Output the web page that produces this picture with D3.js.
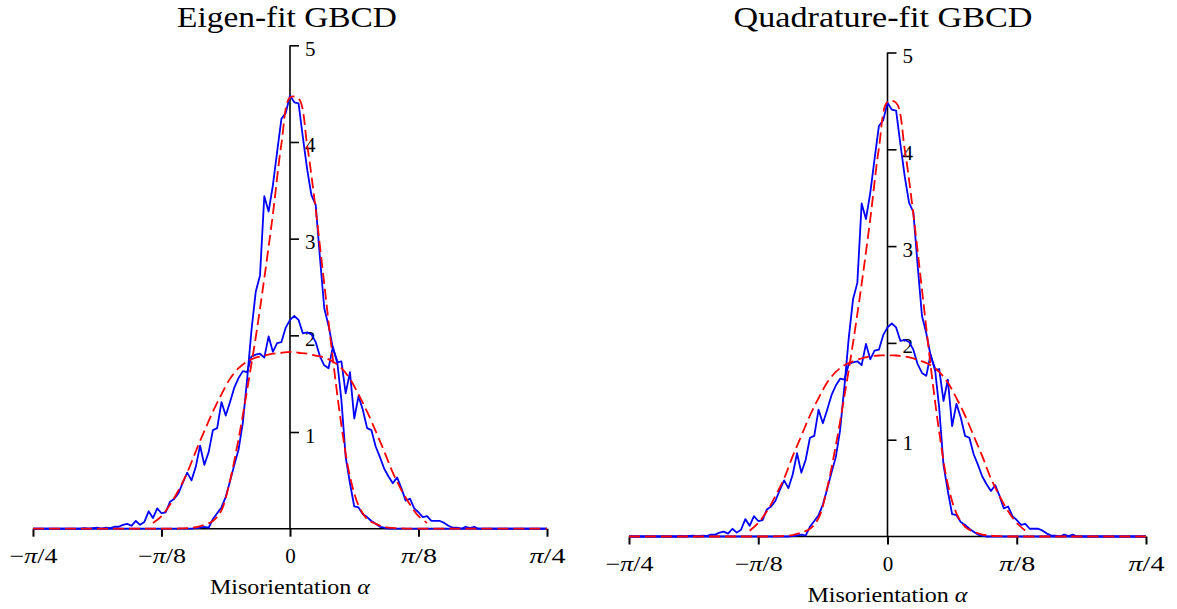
<!DOCTYPE html>
<html>
<head>
<meta charset="utf-8">
<script src="https://cdn.jsdelivr.net/npm/d3@7/dist/d3.min.js"></script>
<style>
  body { margin: 0; background: #fff; }
  svg text { font-family: "Liberation Serif", "DejaVu Serif", serif; fill: #000; }
</style>
</head>
<body>
<svg id="chart" width="1177" height="609"></svg>
<script>
// Misorientation grid: 120 bins across [-π/4, π/4]
const binStep = Math.PI / 240;
const measuredAlpha = d3.range(121).map(i => -Math.PI / 4 + i * binStep);
// fitted curves are sampled on every second grid point
const fitAlpha = d3.range(61).map(i => -Math.PI / 4 + i * 2 * binStep);

// measured GBCD, sharp population
const sharpMeasured = [
  0,0,0,0,0,0,0,0,0,0,
  0,0,0,0,0,0,0,0,0,0,
  0,0,0,0,0,0,0,0,0,0,
  0,0,0,0,0,0,0,0,
  0.005,0.01,0.02,0.01,0.10,0.16,0.22,0.33,0.49,0.66,
  0.82,1.10,1.55,2.05,2.45,2.62,3.44,3.28,3.55,3.90,
  4.24,4.30,4.48,4.41,4.40,4.05,3.72,3.45,3.35,2.80,
  2.28,2.10,1.87,1.74,1.33,0.74,0.47,0.23,0.22,0.15,
  0.12,0.08,0.05,0.02,0.01,
  0,0,0,0,0,0,0,0,0,0,
  0,0,0,0,0,0,0,0,0,0,
  0,0,0,0,0,0,0,0,0,0,
  0,0,0,0,0,0,0,0
];

// measured GBCD, broad population
const broadMeasured = [
  0,0,0,0,0,0,0,0,0,0,0,0,
  0.005,0,0.005,0.01,0,0.01,0.005,0.02,0.02,0.04,
  0.05,0.03,0.08,0.04,0.07,0.18,0.11,0.21,0.16,0.17,
  0.28,0.31,0.37,0.48,0.58,0.50,0.64,0.86,0.66,0.79,
  1.02,1.04,1.31,1.17,1.31,1.46,1.56,1.63,1.62,1.78,
  1.80,1.81,1.77,1.99,1.83,1.92,1.93,2.08,2.16,2.20,
  2.16,2.02,2.03,2.01,1.93,1.78,1.69,1.66,1.88,1.72,
  1.73,1.40,1.62,1.14,1.37,1.23,1.04,1.02,0.85,0.74,
  0.62,0.54,0.47,0.53,0.42,0.29,0.31,0.21,0.17,0.12,
  0.13,0.08,0.08,0.08,0.06,0.03,0.01,0.01,0,0.02,
  0.005,0.02,0,
  0,0,0,0,0,0,0,0,0,0,0,0,0,0,0,0
];

// eigen-fit curves
const eigenSharpFit = [
  0,0,0,0,0,0,0,0,0,0,0,0,0,0,0,0,0,
  0.002,0.006,0.015,0.04,0.08,0.19,0.50,0.93,1.44,1.98,
  2.59,3.25,3.98,4.46,4.45,3.97,3.30,2.53,1.76,1.07,
  0.54,0.24,0.10,0.05,0.02,0.008,0.003,
  0,0,0,0,0,0,0,0,0,0,0,0,0,0,0,0,0
];
const eigenBroadFit = [
  null,null,null,null,null,null,null,null,null,null,null,null,null,null,
  0.06,0.13,0.25,0.40,0.58,0.80,1.01,1.21,1.39,1.55,
  1.66,1.73,1.77,1.79,1.81,1.82,1.83,1.82,1.81,1.79,
  1.77,1.73,1.66,1.55,1.39,1.21,1.01,0.80,0.58,0.40,
  0.25,0.13,0.06,
  null,null,null,null,null,null,null,null,null,null,null,null,null,null
];

// quadrature-fit curves
const quadSharpFit = [
  0,0,0,0,0,0,0,0,0,0,0,0,0,0,0,0,0,
  0.002,0.006,0.015,0.04,0.08,0.19,0.50,0.94,1.45,2.00,
  2.61,3.28,4.01,4.49,4.48,4.00,3.33,2.55,1.77,1.08,
  0.54,0.24,0.10,0.05,0.02,0.008,0.003,
  0,0,0,0,0,0,0,0,0,0,0,0,0,0,0,0,0
];
const quadBroadFit = [
  null,null,null,null,null,null,null,null,null,null,null,null,null,null,
  0.06,0.14,0.26,0.42,0.60,0.83,1.04,1.25,1.43,1.59,
  1.70,1.77,1.81,1.84,1.86,1.87,1.87,1.87,1.86,1.84,
  1.81,1.77,1.70,1.59,1.43,1.25,1.04,0.83,0.60,0.42,
  0.26,0.14,0.06,
  null,null,null,null,null,null,null,null,null,null,null,null,null,null
];

const xTickValues = [-Math.PI / 4, -Math.PI / 8, 0, Math.PI / 8, Math.PI / 4];
const xTickLabels = [["−", "π", "/4"], ["−", "π", "/8"], ["", "", "0"], ["", "π", "/8"], ["", "π", "/4"]];
const xTickLabelWidths = [48, 48, null, 36, 36];
const yTickValues = [1, 2, 3, 4, 5];
const panelTitles = ["Eigen-fit GBCD", "Quadrature-fit GBCD"];
const xAxisTitle = "Misorientation ";

const panels = [
  { title: panelTitles[0], sharp: eigenSharpFit, broad: eigenBroadFit,
    left: 33, right: 547, top: 45.3, bottom: 528.7, titleX: 287, titleW: 220, labelY: 594 },
  { title: panelTitles[1], sharp: quadSharpFit, broad: quadBroadFit,
    left: 629, right: 1146, top: 52.5, bottom: 536.5, titleX: 883, titleW: 299, labelY: 602 }
];

const svg = d3.select("#chart");

panels.forEach(p => {
  const x = d3.scaleLinear().domain([-Math.PI / 4, Math.PI / 4]).range([p.left, p.right]);
  const y = d3.scaleLinear().domain([0, 5]).range([p.bottom, p.top]);
  const g = svg.append("g");

  // title
  g.append("text")
    .attr("x", p.titleX).attr("y", 27)
    .attr("text-anchor", "middle")
    .attr("font-size", 29)
    .attr("textLength", p.titleW).attr("lengthAdjust", "spacingAndGlyphs")
    .text(p.title);

  // horizontal axis through y = 0
  const xAxis = d3.axisBottom(x).tickValues(xTickValues).tickSize(8).tickFormat("");
  const xg = g.append("g").attr("transform", `translate(0,${y(0)})`).call(xAxis);
  xg.select(".domain").attr("d", `M${p.left},0H${p.right}`).attr("stroke-width", 1.6);
  xg.selectAll(".tick line").attr("stroke-width", 2);
  xg.selectAll(".tick").append("text")
    .attr("y", 34).attr("fill", "#000")
    .attr("text-anchor", "middle")
    .attr("font-size", 21)
    .each(function (d, i) {
      const parts = xTickLabels[i];
      const t = d3.select(this);
      if (xTickLabelWidths[i]) t.attr("textLength", xTickLabelWidths[i]).attr("lengthAdjust", "spacingAndGlyphs");
      if (parts[0]) t.append("tspan").text(parts[0]);
      if (parts[1]) t.append("tspan").attr("font-style", "italic").text(parts[1]);
      t.append("tspan").text(parts[2]);
    });

  // vertical axis through α = 0
  const yAxis = d3.axisRight(y).tickValues(yTickValues).tickSize(9).tickFormat("");
  const yg = g.append("g").attr("transform", `translate(${x(0)},0)`).call(yAxis);
  yg.select(".domain").attr("d", `M0,${p.bottom}V${p.top}`).attr("stroke-width", 1.6);
  yg.selectAll(".tick line").attr("stroke-width", 1.6);
  yg.selectAll(".tick").append("text")
    .attr("x", 15).attr("y", 10).attr("fill", "#000")
    .attr("text-anchor", "start")
    .attr("font-size", 21)
    .text(d => d);

  // axis title
  const lab = g.append("text")
    .attr("x", (p.left + p.right) / 2).attr("y", p.labelY)
    .attr("text-anchor", "middle").attr("font-size", 21)
    .attr("textLength", 160).attr("lengthAdjust", "spacingAndGlyphs");
  lab.append("tspan").text(xAxisTitle);
  lab.append("tspan").attr("font-style", "italic").text("α");

  // measured curves
  const measuredLine = d3.line().x((d, i) => x(measuredAlpha[i])).y(d => y(d));
  [sharpMeasured, broadMeasured].forEach(series => {
    g.append("path").datum(series)
      .attr("d", measuredLine)
      .attr("fill", "none").attr("stroke", "#0000ff")
      .attr("stroke-width", 1.8).attr("stroke-linejoin", "round");
  });

  // fitted curves, smooth interpolation between samples
  const fitLine = d3.line()
    .defined(d => d !== null)
    .x((d, i) => x(fitAlpha[i])).y(d => y(Math.max(0, d)))
    .curve(d3.curveCatmullRom.alpha(0.5));
  [p.sharp, p.broad].forEach(series => {
    g.append("path").datum(series)
      .attr("d", fitLine)
      .attr("fill", "none").attr("stroke", "#ff0000")
      .attr("stroke-width", 1.8).attr("stroke-dasharray", "11,5");
  });
});
</script>
</body>
</html>
